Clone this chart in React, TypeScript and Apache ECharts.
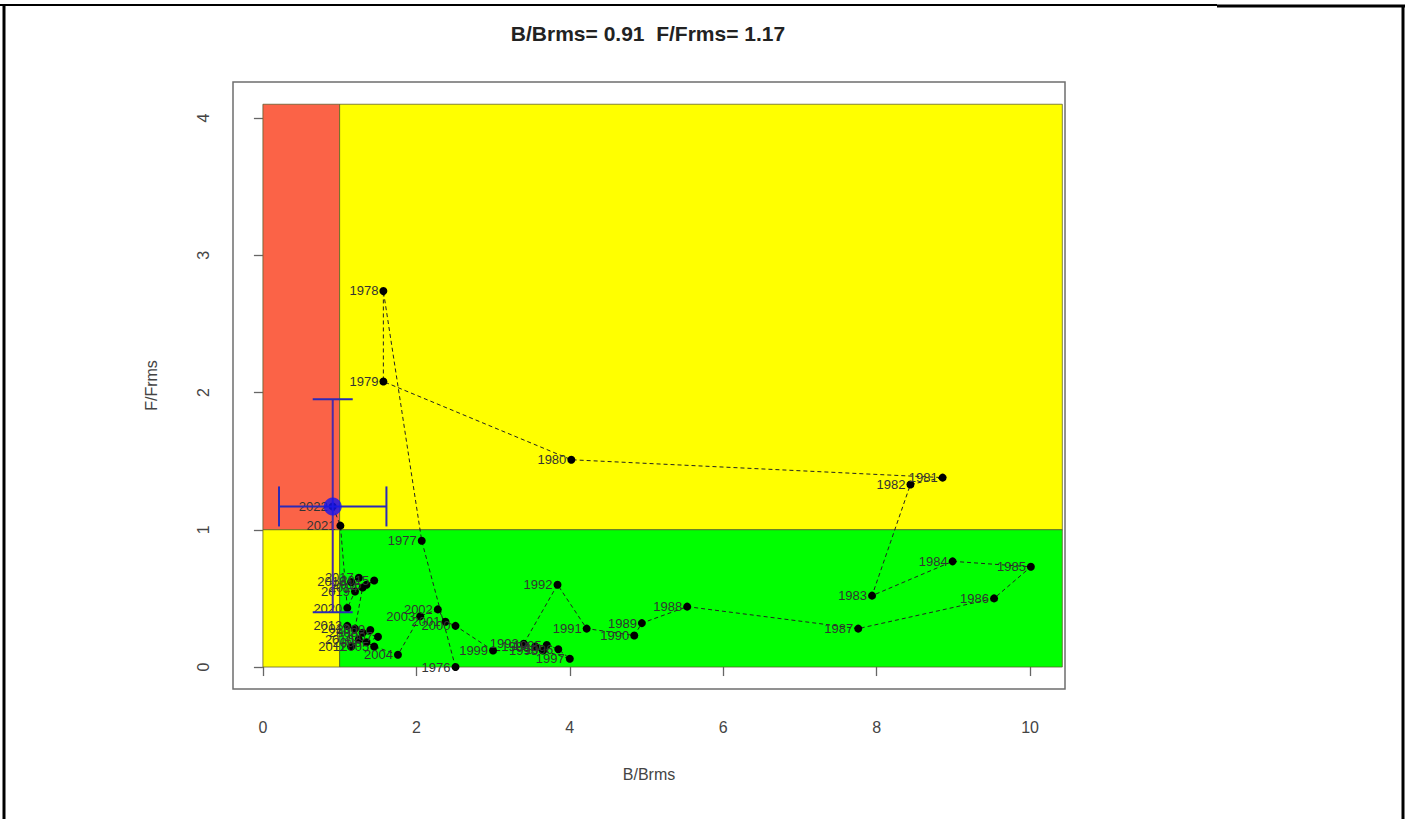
import React, { useEffect, useRef } from "react";
import * as echarts from "echarts";

// ---------- data ----------
const years = [
  1976, 1977, 1978, 1979, 1980, 1981, 1982, 1983, 1984, 1985, 1986, 1987,
  1988, 1989, 1990, 1991, 1992, 1993, 1994, 1995, 1996, 1997, 1998, 1999,
  2000, 2001, 2002, 2003, 2004, 2005, 2006, 2007, 2008, 2009, 2010, 2011,
  2012, 2013, 2014, 2015, 2016, 2017, 2018, 2019, 2020, 2021, 2022,
];
const bRatio = [
  2.51, 2.07, 1.57, 1.57, 4.02, 8.86, 8.44, 7.94, 8.99, 10.01, 9.53, 7.76,
  5.53, 4.94, 4.84, 4.22, 3.84, 3.4, 3.55, 3.7, 3.85, 4.0, 3.65, 3.0,
  2.51, 2.38, 2.28, 2.05, 1.76, 1.45, 1.35, 1.5, 1.3, 1.4, 1.25, 1.15,
  1.1, 1.2, 1.3, 1.45, 1.35, 1.25, 1.15, 1.2, 1.1, 1.01, 0.91,
];
const fRatio = [
  0.0, 0.92, 2.74, 2.08, 1.51, 1.38, 1.33, 0.52, 0.77, 0.73, 0.5, 0.28,
  0.44, 0.32, 0.23, 0.28, 0.6, 0.17, 0.15, 0.16, 0.13, 0.06, 0.12, 0.12,
  0.3, 0.33, 0.42, 0.37, 0.09, 0.15, 0.18, 0.22, 0.25, 0.27, 0.2, 0.15,
  0.3, 0.28, 0.58, 0.63, 0.6, 0.65, 0.62, 0.55, 0.43, 1.03, 1.17,
];

const currentB = 0.91;
const currentF = 1.17;
const currentBRange = [0.21, 1.61];
const currentFRange = [0.4, 1.95];

// zones: [xFrom, xTo, yFrom, yTo]
const zoneBreakB = 1;
const zoneBreakF = 1;
const zoneMaxB = 10.42;
const zoneMaxF = 4.1;
const zones = [
  [0, zoneBreakB, zoneBreakF, zoneMaxF],
  [zoneBreakB, zoneMaxB, zoneBreakF, zoneMaxF],
  [0, zoneBreakB, 0, zoneBreakF],
  [zoneBreakB, zoneMaxB, 0, zoneBreakF],
];
const zoneColors = ["#FB6347", "#FFFF00", "#FFFF00", "#00FF00"];

const xTicks = [0, 2, 4, 6, 8, 10];
const yTicks = [0, 1, 2, 3, 4];
const titleText = "B/Brms= 0.91  F/Frms= 1.17";

const FONT = "'Liberation Sans', Arial, Helvetica, sans-serif";

export default function App() {
  const ref = useRef<HTMLDivElement>(null);

  useEffect(() => {
    if (!ref.current) return;
    const chart = echarts.init(ref.current, undefined, { renderer: "svg" });

    const trajectory = years.map((y, i) => [bRatio[i], fRatio[i], y]);

    const option: any = {
      animation: false,
      backgroundColor: "#ffffff",
      textStyle: { fontFamily: FONT },
      grid: {
        left: 233,
        right: 340,
        top: 82,
        bottom: 130,
        show: true,
        borderColor: "#6e6e6e",
        borderWidth: 1.5,
        backgroundColor: "transparent",
      },
      xAxis: {
        type: "value",
        min: -0.39,
        max: 10.455,
        axisLine: { show: false },
        splitLine: { show: false },
        axisTick: {
          show: true,
          customValues: xTicks,
          length: 9,
          lineStyle: { color: "#666", width: 1.3 },
        },
        axisLabel: {
          customValues: xTicks,
          margin: 30,
          fontSize: 16,
          color: "#444",
          fontFamily: FONT,
        },
        name: "B/Brms",
        nameLocation: "middle",
        nameGap: 77,
        nameTextStyle: { fontSize: 16, color: "#444", fontFamily: FONT },
      },
      yAxis: {
        type: "value",
        min: -0.16,
        max: 4.262,
        axisLine: { show: false },
        splitLine: { show: false },
        axisTick: {
          show: true,
          customValues: yTicks,
          length: 9,
          lineStyle: { color: "#666", width: 1.3 },
        },
        axisLabel: {
          customValues: yTicks,
          margin: 22,
          rotate: 90,
          fontSize: 16,
          color: "#444",
          fontFamily: FONT,
        },
        name: "F/Frms",
        nameLocation: "middle",
        nameGap: 74,
        nameRotate: 90,
        nameTextStyle: { fontSize: 16, color: "#444", fontFamily: FONT },
      },
      graphic: [
        {
          type: "text",
          x: 648,
          y: 33,
          style: {
            text: titleText,
            fontSize: 21,
            fontWeight: "bold",
            fontFamily: FONT,
            fill: "#222",
            textAlign: "center",
            textVerticalAlign: "middle",
          },
        },
        { type: "line", shape: { x1: 0, y1: 5, x2: 1217, y2: 5 }, style: { stroke: "#000", lineWidth: 2 } },
        { type: "line", shape: { x1: 1217, y1: 6, x2: 1405, y2: 6 }, style: { stroke: "#000", lineWidth: 3 } },
        { type: "line", shape: { x1: 4, y1: 4, x2: 4, y2: 819 }, style: { stroke: "#000", lineWidth: 3 } },
        { type: "line", shape: { x1: 1403, y1: 5, x2: 1403, y2: 819 }, style: { stroke: "#000", lineWidth: 3 } },
      ],
      series: [
        {
          type: "custom",
          name: "zones",
          z: 1,
          silent: true,
          data: zones,
          encode: { x: [0, 1], y: [2, 3] },
          renderItem: (params: any, api: any) => {
            const p0 = api.coord([api.value(0), api.value(3)]);
            const p1 = api.coord([api.value(1), api.value(2)]);
            return {
              type: "rect",
              shape: { x: p0[0], y: p0[1], width: p1[0] - p0[0], height: p1[1] - p0[1] },
              style: {
                fill: zoneColors[params.dataIndex],
                stroke: "rgba(90,90,40,0.75)",
                lineWidth: 1,
              },
            };
          },
        },
        {
          type: "line",
          name: "trajectory",
          z: 3,
          data: trajectory,
          symbol: "circle",
          symbolSize: 8,
          itemStyle: { color: "#000" },
          lineStyle: { color: "#222", width: 1, type: [4, 3] },
          labelLayout: { hideOverlap: false },
          label: {
            show: true,
            position: "left",
            distance: 1,
            fontSize: 13,
            color: "#333",
            fontFamily: FONT,
            formatter: (p: any) => String(p.value[2]),
          },
        },
        {
          type: "custom",
          name: "uncertainty",
          z: 4,
          silent: true,
          data: [[currentB, currentF, currentBRange[0], currentBRange[1], currentFRange[0], currentFRange[1]]],
          encode: { x: [0, 2, 3], y: [1, 4, 5] },
          renderItem: (params: any, api: any) => {
            const c = api.coord([api.value(0), api.value(1)]);
            const bl = api.coord([api.value(2), api.value(1)]);
            const br = api.coord([api.value(3), api.value(1)]);
            const fl = api.coord([api.value(0), api.value(4)]);
            const fh = api.coord([api.value(0), api.value(5)]);
            const cap = 20;
            const st = { stroke: "#2a2ab8", lineWidth: 2 };
            return {
              type: "group",
              children: [
                { type: "line", shape: { x1: bl[0], y1: c[1], x2: br[0], y2: c[1] }, style: st },
                { type: "line", shape: { x1: bl[0], y1: c[1] - cap, x2: bl[0], y2: c[1] + cap }, style: st },
                { type: "line", shape: { x1: br[0], y1: c[1] - cap, x2: br[0], y2: c[1] + cap }, style: st },
                { type: "line", shape: { x1: c[0], y1: fl[1], x2: c[0], y2: fh[1] }, style: { stroke: "#4a2aa8", lineWidth: 2 } },
                { type: "line", shape: { x1: c[0] - cap, y1: fh[1], x2: c[0] + cap, y2: fh[1] }, style: st },
                { type: "line", shape: { x1: c[0] - cap, y1: fl[1], x2: c[0] + cap, y2: fl[1] }, style: st },
              ],
            };
          },
        },
        {
          type: "scatter",
          name: "current",
          z: 5,
          data: [[currentB, currentF]],
          symbol: "circle",
          symbolSize: 18,
          itemStyle: { color: "#1414f0" },
        },
      ],
    };

    chart.setOption(option);
    return () => chart.dispose();
  }, []);

  return (
    <div
      ref={ref}
      style={{ position: "fixed", left: 0, top: 0, width: 1405, height: 819, background: "#fff" }}
    />
  );
}
